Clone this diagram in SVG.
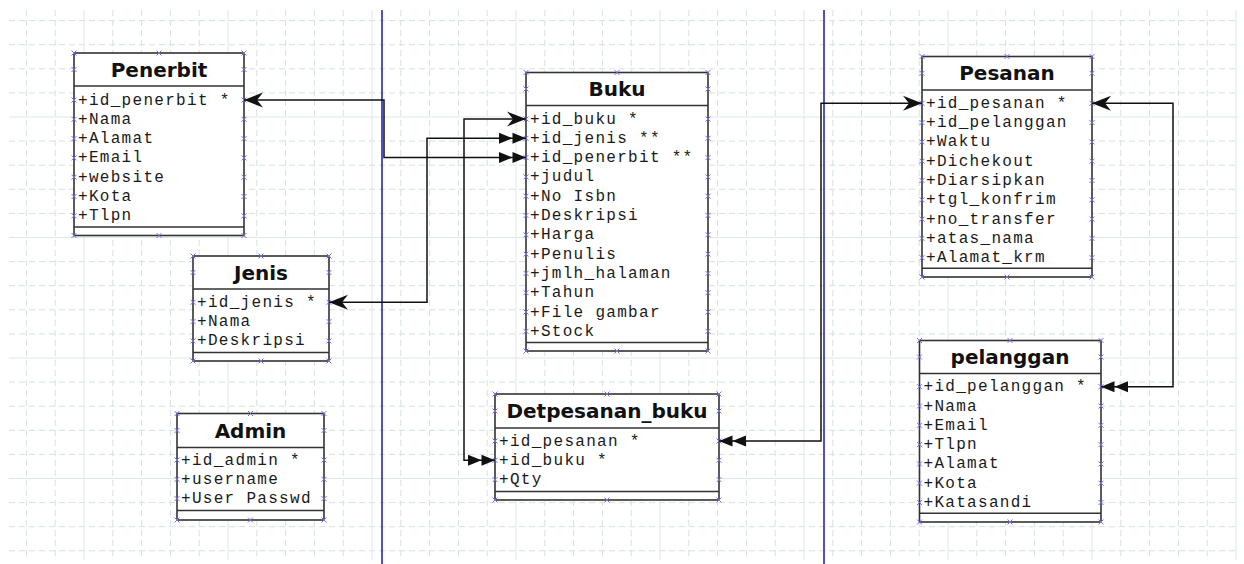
<svg xmlns="http://www.w3.org/2000/svg" xmlns:xlink="http://www.w3.org/1999/xlink" width="1244" height="564" viewBox="0 0 1244 564">
<style>
.gd{stroke:#d3e2e2;stroke-width:1;stroke-dasharray:6 4;fill:none}
.gs{stroke:#dbe8e8;stroke-width:1;fill:none}
.bl{stroke:#1a1aa6;stroke-width:1.5;fill:none}
.box{fill:#fff;stroke:#333;stroke-width:1.6}
.ln{stroke:#333;stroke-width:1.6;fill:none}
.t{font-family:"DejaVu Sans",Verdana,sans-serif;font-weight:bold;font-size:20px;fill:#111;text-anchor:middle}
.f{font-family:"Liberation Mono","Courier New",monospace;font-size:16px;letter-spacing:1.3px;fill:#1a1a1a}
.cn{stroke:#111;stroke-width:1.5;fill:none}
.xm{stroke:#7272f0;stroke-width:1;fill:none}
</style>
<defs>
<path id="x" class="xm" d="M-2.5,-2.5L2.5,2.5M-2.5,2.5L2.5,-2.5"/>
<marker id="dart" markerUnits="userSpaceOnUse" markerWidth="22" markerHeight="18" refX="19" refY="9" orient="auto-start-reverse" overflow="visible"><path d="M19,9L0,1.5L6,9L0,16.5Z" fill="#111"/></marker>
<marker id="dbl" markerUnits="userSpaceOnUse" markerWidth="28" markerHeight="12" refX="27" refY="6" orient="auto" overflow="visible"><path d="M0,0.5L13.5,6L0,11.5ZM13.5,0.5L27,6L13.5,11.5Z" fill="#111"/></marker>
</defs>
<rect width="1244" height="564" fill="#fff"/>
<g id="grid">
<path class="gd" d="M26.4 10V560M55.2 10V560M112.8 10V560M141.6 10V560M170.4 10V560M199.2 10V560M256.8 10V560M285.6 10V560M314.4 10V560M343.2 10V560M400.8 10V560M429.6 10V560M458.4 10V560M487.2 10V560M544.8 10V560M573.6 10V560M602.4 10V560M631.2 10V560M688.8 10V560M717.6 10V560M746.4 10V560M775.2 10V560M832.8 10V560M861.6 10V560M890.4 10V560M919.2 10V560M976.8 10V560M1005.6 10V560M1034.4 10V560M1063.2 10V560M1120.8 10V560M1149.6 10V560M1178.4 10V560M1207.2 10V560"/>
<path class="gd" d="M9 20.6H1238M9 44.7H1238M9 68.8H1238M9 92.9H1238M9 141.1H1238M9 165.2H1238M9 189.3H1238M9 213.4H1238M9 261.6H1238M9 285.7H1238M9 309.8H1238M9 333.9H1238M9 382.1H1238M9 406.2H1238M9 430.3H1238M9 454.4H1238M9 502.6H1238M9 526.7H1238M9 550.8H1238"/>
<path class="gs" d="M84 10V560M228 10V560M372 10V560M516 10V560M660 10V560M804 10V560M948 10V560M1092 10V560M1236 10V560M9 117H1238M9 237.5H1238M9 358H1238M9 478.5H1238"/>
</g>
<g id="lanes">
<path class="bl" d="M382 10V564M824 10V564"/>
</g>
<g id="Penerbit">
<rect class="box" x="74" y="53" width="170" height="182.5"/>
<path class="ln" d="M74 86H244M74 227H244"/>
<text class="t" x="159" y="76.5">Penerbit</text>
<text class="f" x="78" y="104.5">+id_penerbit *</text>
<text class="f" x="78" y="123.8">+Nama</text>
<text class="f" x="78" y="143.1">+Alamat</text>
<text class="f" x="78" y="162.4">+Email</text>
<text class="f" x="78" y="181.7">+website</text>
<text class="f" x="78" y="201">+Kota</text>
<text class="f" x="78" y="220.3">+Tlpn</text>
<use href="#x" x="74" y="53"/><use href="#x" x="159" y="53"/><use href="#x" x="244" y="53"/>
<use href="#x" x="74" y="69.5"/><use href="#x" x="244" y="69.5"/>
<use href="#x" x="74" y="100"/><use href="#x" x="244" y="100"/>
<use href="#x" x="74" y="119.3"/><use href="#x" x="244" y="119.3"/>
<use href="#x" x="74" y="138.6"/><use href="#x" x="244" y="138.6"/>
<use href="#x" x="74" y="157.9"/><use href="#x" x="244" y="157.9"/>
<use href="#x" x="74" y="177.2"/><use href="#x" x="244" y="177.2"/>
<use href="#x" x="74" y="196.5"/><use href="#x" x="244" y="196.5"/>
<use href="#x" x="74" y="215.8"/><use href="#x" x="244" y="215.8"/>
<use href="#x" x="74" y="235.5"/><use href="#x" x="159" y="235.5"/><use href="#x" x="244" y="235.5"/>
</g>
<g id="Jenis">
<rect class="box" x="193" y="256" width="136" height="105"/>
<path class="ln" d="M193 289H329M193 352.5H329"/>
<text class="t" x="261" y="279.5">Jenis</text>
<text class="f" x="197" y="306.8">+id_jenis *</text>
<text class="f" x="197" y="326.1">+Nama</text>
<text class="f" x="197" y="345.4">+Deskripsi</text>
<use href="#x" x="193" y="256"/><use href="#x" x="261" y="256"/><use href="#x" x="329" y="256"/>
<use href="#x" x="193" y="272.5"/><use href="#x" x="329" y="272.5"/>
<use href="#x" x="193" y="302.3"/><use href="#x" x="329" y="302.3"/>
<use href="#x" x="193" y="321.6"/><use href="#x" x="329" y="321.6"/>
<use href="#x" x="193" y="340.9"/><use href="#x" x="329" y="340.9"/>
<use href="#x" x="193" y="361"/><use href="#x" x="261" y="361"/><use href="#x" x="329" y="361"/>
</g>
<g id="Admin">
<rect class="box" x="177" y="413.5" width="147" height="106.5"/>
<path class="ln" d="M177 447.5H324M177 510.5H324"/>
<text class="t" x="250.5" y="437.5">Admin</text>
<text class="f" x="181" y="464.5">+id_admin *</text>
<text class="f" x="181" y="483.8">+username</text>
<text class="f" x="181" y="503.1">+User Passwd</text>
<use href="#x" x="177" y="413.5"/><use href="#x" x="250.5" y="413.5"/><use href="#x" x="324" y="413.5"/>
<use href="#x" x="177" y="430.5"/><use href="#x" x="324" y="430.5"/>
<use href="#x" x="177" y="460"/><use href="#x" x="324" y="460"/>
<use href="#x" x="177" y="479.3"/><use href="#x" x="324" y="479.3"/>
<use href="#x" x="177" y="498.6"/><use href="#x" x="324" y="498.6"/>
<use href="#x" x="177" y="520"/><use href="#x" x="250.5" y="520"/><use href="#x" x="324" y="520"/>
</g>
<g id="Buku">
<rect class="box" x="526" y="72.5" width="182" height="278.5"/>
<path class="ln" d="M526 105.5H708M526 342.5H708"/>
<text class="t" x="617" y="96">Buku</text>
<text class="f" x="530" y="123.5">+id_buku *</text>
<text class="f" x="530" y="142.8">+id_jenis **</text>
<text class="f" x="530" y="162.1">+id_penerbit **</text>
<text class="f" x="530" y="181.4">+judul</text>
<text class="f" x="530" y="200.7">+No Isbn</text>
<text class="f" x="530" y="220">+Deskripsi</text>
<text class="f" x="530" y="239.3">+Harga</text>
<text class="f" x="530" y="258.6">+Penulis</text>
<text class="f" x="530" y="277.9">+jmlh_halaman</text>
<text class="f" x="530" y="297.2">+Tahun</text>
<text class="f" x="530" y="316.5">+File gambar</text>
<text class="f" x="530" y="335.8">+Stock</text>
<use href="#x" x="526" y="72.5"/><use href="#x" x="617" y="72.5"/><use href="#x" x="708" y="72.5"/>
<use href="#x" x="526" y="89"/><use href="#x" x="708" y="89"/>
<use href="#x" x="526" y="119"/><use href="#x" x="708" y="119"/>
<use href="#x" x="526" y="138.3"/><use href="#x" x="708" y="138.3"/>
<use href="#x" x="526" y="157.6"/><use href="#x" x="708" y="157.6"/>
<use href="#x" x="526" y="176.9"/><use href="#x" x="708" y="176.9"/>
<use href="#x" x="526" y="196.2"/><use href="#x" x="708" y="196.2"/>
<use href="#x" x="526" y="215.5"/><use href="#x" x="708" y="215.5"/>
<use href="#x" x="526" y="234.8"/><use href="#x" x="708" y="234.8"/>
<use href="#x" x="526" y="254.1"/><use href="#x" x="708" y="254.1"/>
<use href="#x" x="526" y="273.4"/><use href="#x" x="708" y="273.4"/>
<use href="#x" x="526" y="292.7"/><use href="#x" x="708" y="292.7"/>
<use href="#x" x="526" y="312"/><use href="#x" x="708" y="312"/>
<use href="#x" x="526" y="331.3"/><use href="#x" x="708" y="331.3"/>
<use href="#x" x="526" y="351"/><use href="#x" x="617" y="351"/><use href="#x" x="708" y="351"/>
</g>
<g id="Detpesanan_buku">
<rect class="box" x="495" y="394" width="224" height="106"/>
<path class="ln" d="M495 428H719M495 491.5H719"/>
<text class="t" x="607" y="418">Detpesanan_buku</text>
<text class="f" x="499" y="445.5">+id_pesanan *</text>
<text class="f" x="499" y="464.8">+id_buku *</text>
<text class="f" x="499" y="484.1">+Qty</text>
<use href="#x" x="495" y="394"/><use href="#x" x="607" y="394"/><use href="#x" x="719" y="394"/>
<use href="#x" x="495" y="411"/><use href="#x" x="719" y="411"/>
<use href="#x" x="495" y="441"/><use href="#x" x="719" y="441"/>
<use href="#x" x="495" y="460.3"/><use href="#x" x="719" y="460.3"/>
<use href="#x" x="495" y="479.6"/><use href="#x" x="719" y="479.6"/>
<use href="#x" x="495" y="500"/><use href="#x" x="607" y="500"/><use href="#x" x="719" y="500"/>
</g>
<g id="Pesanan">
<rect class="box" x="922" y="56.5" width="170" height="220.5"/>
<path class="ln" d="M922 90H1092M922 268.3H1092"/>
<text class="t" x="1007" y="80">Pesanan</text>
<text class="f" x="926" y="107.8">+id_pesanan *</text>
<text class="f" x="926" y="127.1">+id_pelanggan</text>
<text class="f" x="926" y="146.4">+Waktu</text>
<text class="f" x="926" y="165.7">+Dichekout</text>
<text class="f" x="926" y="185">+Diarsipkan</text>
<text class="f" x="926" y="204.3">+tgl_konfrim</text>
<text class="f" x="926" y="223.6">+no_transfer</text>
<text class="f" x="926" y="242.9">+atas_nama</text>
<text class="f" x="926" y="262.2">+Alamat_krm</text>
<use href="#x" x="922" y="56.5"/><use href="#x" x="1007" y="56.5"/><use href="#x" x="1092" y="56.5"/>
<use href="#x" x="922" y="73.3"/><use href="#x" x="1092" y="73.3"/>
<use href="#x" x="922" y="103.3"/><use href="#x" x="1092" y="103.3"/>
<use href="#x" x="922" y="122.6"/><use href="#x" x="1092" y="122.6"/>
<use href="#x" x="922" y="141.9"/><use href="#x" x="1092" y="141.9"/>
<use href="#x" x="922" y="161.2"/><use href="#x" x="1092" y="161.2"/>
<use href="#x" x="922" y="180.5"/><use href="#x" x="1092" y="180.5"/>
<use href="#x" x="922" y="199.8"/><use href="#x" x="1092" y="199.8"/>
<use href="#x" x="922" y="219.1"/><use href="#x" x="1092" y="219.1"/>
<use href="#x" x="922" y="238.4"/><use href="#x" x="1092" y="238.4"/>
<use href="#x" x="922" y="257.7"/><use href="#x" x="1092" y="257.7"/>
<use href="#x" x="922" y="277"/><use href="#x" x="1007" y="277"/><use href="#x" x="1092" y="277"/>
</g>
<g id="pelanggan">
<rect class="box" x="919.5" y="340.5" width="181.5" height="181.5"/>
<path class="ln" d="M919.5 373.5H1101M919.5 513.3H1101"/>
<text class="t" x="1010" y="364">pelanggan</text>
<text class="f" x="923.5" y="391.2">+id_pelanggan *</text>
<text class="f" x="923.5" y="410.5">+Nama</text>
<text class="f" x="923.5" y="429.8">+Email</text>
<text class="f" x="923.5" y="449.1">+Tlpn</text>
<text class="f" x="923.5" y="468.4">+Alamat</text>
<text class="f" x="923.5" y="487.7">+Kota</text>
<text class="f" x="923.5" y="507">+Katasandi</text>
<use href="#x" x="919.5" y="340.5"/><use href="#x" x="1010" y="340.5"/><use href="#x" x="1101" y="340.5"/>
<use href="#x" x="919.5" y="357"/><use href="#x" x="1101" y="357"/>
<use href="#x" x="919.5" y="386.7"/><use href="#x" x="1101" y="386.7"/>
<use href="#x" x="919.5" y="406"/><use href="#x" x="1101" y="406"/>
<use href="#x" x="919.5" y="425.3"/><use href="#x" x="1101" y="425.3"/>
<use href="#x" x="919.5" y="444.6"/><use href="#x" x="1101" y="444.6"/>
<use href="#x" x="919.5" y="463.9"/><use href="#x" x="1101" y="463.9"/>
<use href="#x" x="919.5" y="483.2"/><use href="#x" x="1101" y="483.2"/>
<use href="#x" x="919.5" y="502.5"/><use href="#x" x="1101" y="502.5"/>
<use href="#x" x="919.5" y="522"/><use href="#x" x="1010" y="522"/><use href="#x" x="1101" y="522"/>
</g>
<g id="connectors">
<path class="cn" d="M244 100H384V157.6H526" marker-start="url(#dart)" marker-end="url(#dbl)"/>
<path class="cn" d="M329 302.3H427V138.3H526" marker-start="url(#dart)" marker-end="url(#dbl)"/>
<path class="cn" d="M526 119H464V460.3H495" marker-start="url(#dart)" marker-end="url(#dbl)"/>
<path class="cn" d="M922 103.3H821V441H719" marker-start="url(#dart)" marker-end="url(#dbl)"/>
<path class="cn" d="M1092 103.3H1173V386.7H1101" marker-start="url(#dart)" marker-end="url(#dbl)"/>
</g>
</svg>
